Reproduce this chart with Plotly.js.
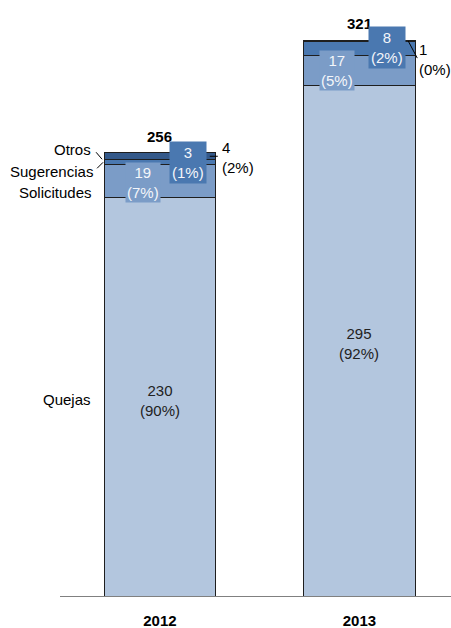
<!DOCTYPE html>
<html><head><meta charset="utf-8">
<script src="https://cdn.plot.ly/plotly-3.0.1.min.js"></script>
<style>html,body{margin:0;padding:0;background:#fff}#chart{width:451px;height:628px}</style>
</head><body><div id="chart"></div>
<script>
const years = ['2012', '2013'];
const categories = ['Quejas', 'Solicitudes', 'Sugerencias', 'Otros'];
const quejas = [230, 295];
const solicitudes = [19, 17];
const sugerencias = [3, 8];
const otros = [4, 1];
const totals = [256, 321];

const series = [quejas, solicitudes, sugerencias, otros];
const colors = ['#b3c6de', '#7b9cc7', '#4a78b0', '#34598a'];
const barWidth = 0.56;

const traces = series.map((vals, i) => ({
  type: 'bar', x: years, y: vals, name: categories[i],
  width: [barWidth, barWidth],
  marker: {color: colors[i], line: {color: '#1e1e1e', width: 1}},
  hoverinfo: 'none'
}));

const F = 'Liberation Sans, Arial, sans-serif';
const ann = [];
const shapes = [];
function leader(xa, ya, x0, y0, x1, y1) {
  shapes.push({type: 'line', xref: 'x', yref: 'y', xsizemode: 'pixel', ysizemode: 'pixel',
    xanchor: xa, yanchor: ya, x0: x0, y0: y0, x1: x1, y1: y1, line: {color: '#000', width: 1}});
}
years.forEach((yr, j) => {
  let base = 0;
  const mids = series.map(vals => { const m = base + vals[j] / 2; base += vals[j]; return m; });
  const pct = series.map(vals => Math.round(vals[j] / totals[j] * 100));
  const vals = series.map(v => v[j]);
  const right = j + barWidth / 2;
  // total
  ann.push({x: j, y: totals[j], text: '<b>' + totals[j] + '</b>', showarrow: false, yanchor: 'bottom', yshift: 6, font: {family: F, size: 15, color: '#000'}});
  // Quejas
  ann.push({x: j, y: mids[0], text: vals[0] + '<br>(' + pct[0] + '%)', showarrow: false, yshift: j === 0 ? -4 : -3, font: {family: F, size: 15, color: '#222'}});
  // Solicitudes
  ann.push({x: j, y: mids[1], text: vals[1] + '<br>(' + pct[1] + '%)', showarrow: false, xshift: j === 0 ? -17 : -22, yshift: j === 0 ? -1 : 0, bgcolor: colors[1], borderpad: 1, font: {family: F, size: 15, color: '#f4f6fa'}});
  // Sugerencias
  ann.push({x: j, y: mids[2], text: vals[2] + '<br>(' + pct[2] + '%)', showarrow: false, xshift: 28, yshift: j === 0 ? 0 : 1, bgcolor: colors[2], borderpad: 2, font: {family: F, size: 15, color: '#f4f6fa'}});
  // Otros (outside)
  ann.push({x: right, y: mids[3], xanchor: 'left', text: vals[3] + '<br>(' + pct[3] + '%)', align: 'left', showarrow: false,
    xshift: j === 0 ? 4 : 2, yshift: j === 0 ? -1 : -18, font: {family: F, size: 15, color: '#000'}});
  if (j === 0) leader(right, mids[3], -6, 0, 2, 0);
  else leader(right, mids[3], -7, 0, 2, -17);
});
// category labels on the left of the first bar
let b0 = 0;
const mid0 = series.map(vals => { const m = b0 + vals[0] / 2; b0 += vals[0]; return m; });
const left = -barWidth / 2;
ann.push({x: left, y: mid0[0], text: categories[0], showarrow: false, xanchor: 'right', xshift: -11, yshift: -3, font: {family: F, size: 15, color: '#000'}});
ann.push({x: left, y: mid0[1], text: categories[1], showarrow: false, xanchor: 'right', xshift: -10, yshift: -11, font: {family: F, size: 15, color: '#000'}});
ann.push({x: left, y: mid0[2], text: categories[2], showarrow: false, xanchor: 'right', xshift: -9, yshift: -9, font: {family: F, size: 15, color: '#000'}});
ann.push({x: left, y: mid0[3], text: categories[3], showarrow: false, xanchor: 'right', xshift: -11, yshift: 7, font: {family: F, size: 15, color: '#000'}});
leader(left, mid0[2], -7, -6, -1, 0);
leader(left, mid0[3], -8, 4, -2, -3);

const layout = {
  width: 451, height: 628,
  margin: {l: 60, r: 0, t: 20, b: 32},
  barmode: 'stack', showlegend: false,
  paper_bgcolor: '#fff', plot_bgcolor: '#fff',
  xaxis: {type: 'category', range: [-0.501, 1.459], showline: true, linecolor: '#808080', linewidth: 1, ticks: '', showgrid: false, zeroline: false,
          ticklabelstandoff: 11, tickfont: {family: F, size: 15, color: '#000', weight: 'bold'}},
  yaxis: {range: [0, 332.7], visible: false, showgrid: false, zeroline: false},
  annotations: ann,
  shapes: shapes
};
Plotly.newPlot('chart', traces, layout, {displayModeBar: false, staticPlot: true});
</script></body></html>
